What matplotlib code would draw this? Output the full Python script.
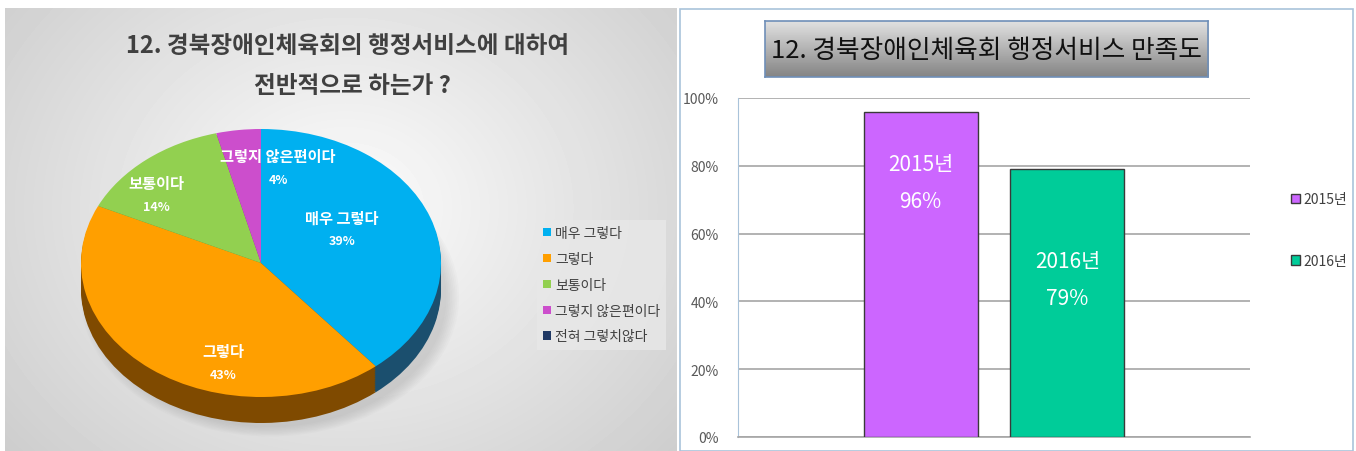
import numpy as np
import matplotlib
matplotlib.use('Agg')
import matplotlib.pyplot as plt
from matplotlib.patches import Rectangle, Ellipse, Patch
from matplotlib.ticker import PercentFormatter

plt.rcParams['font.family'] = ['Noto Sans CJK KR', 'DejaVu Sans']

# left chart data
pie_labels = ['매우 그렇다', '그렇다', '보통이다', '그렇지 않은편이다', '전혀 그렇치않다']
pie_values = [39, 43, 14, 4, 0]
pie_colors = ['#00B0F0', '#FF9F00', '#92D050', '#CC4ECC', '#1F3864']
side_colors = ['#1B4F6E', '#7F4A00', '#5E8A2E', '#862F86', '#101E38']
# label anchors inside the pie (in unit-radius coords)
label_pos = [(0.45, 0.25), (-0.21, -0.75), (-0.58, 0.51), (0.095, 0.71)]

# right chart data
years = ['2015년', '2016년']
satisfaction = [0.96, 0.79]
bar_colors = ['#CC66FF', '#00CC99']
bar_label_y = [0.75, 0.465]

W, H = 1356, 452


def box(x0, y0, x1, y1):
    return [x0 / W, 1 - y1 / H, (x1 - x0) / W, (y1 - y0) / H]


fig = plt.figure(figsize=(W / 100, H / 100), dpi=100)

# ---- left panel background (radial grey gradient)
bg = fig.add_axes(box(5, 9, 677, 452))
yy, xx = np.mgrid[0:443, 0:672]
d = np.sqrt(((xx - 340) / 430.0) ** 2 + ((yy - 200) / 360.0) ** 2)
shade = np.clip(0.99 - 0.18 * d, 0.80, 0.99)
bg.imshow(shade, cmap='gray', vmin=0, vmax=1, aspect='auto', interpolation='bilinear')
bg.axis('off')

# ---- pie with fake 3D side
ax = fig.add_axes(box(5, 9, 677, 452))
ax.set_facecolor('none')
depth = 26 / 134.0

# soft shadow
for k in range(8):
    ax.add_patch(Ellipse((0.05, -depth - 0.06), 2.10 - k * 0.02, 2.08 - k * 0.02,
                         color='#808080', alpha=0.035, lw=0, zorder=0))

for z in np.linspace(-depth, 0, 14)[:-1]:
    ax.pie(pie_values, colors=side_colors, startangle=90, counterclock=False,
           center=(0, z), radius=1, wedgeprops=dict(linewidth=0),
           frame=True)
wedges, _ = ax.pie(pie_values, colors=pie_colors, startangle=90, counterclock=False,
                   center=(0, 0), radius=1, wedgeprops=dict(linewidth=0), frame=True)

for (lx, ly), lab, v in zip(label_pos, pie_labels, pie_values):
    ax.text(lx, ly + 0.09, lab, ha='center', va='center', color='white',
            fontsize=11, fontweight='bold')
    ax.text(lx, ly - 0.085, f'{v}%', ha='center', va='center', color='white',
            fontsize=9, fontweight='bold')

ax.set_aspect('auto')
ax.set_xlim((5 - 261) / 180, (677 - 261) / 180)
ax.set_ylim(-(452 - 264) / 134, (264 - 9) / 134)
ax.axis('off')

fig.text(348 / W, 1 - 46 / H, '12. 경북장애인체육회의 행정서비스에 대하여',
         ha='center', va='center', fontsize=17, fontweight='bold', color='#404040')
fig.text(352 / W, 1 - 86 / H, '전반적으로 하는가 ?',
         ha='center', va='center', fontsize=17, fontweight='bold', color='#404040')

handles = [Patch(facecolor=c, edgecolor='none') for c in pie_colors]
leg = fig.legend(handles, pie_labels, loc='upper left',
                 bbox_to_anchor=(530 / W, 1 - 214 / H), fontsize=10,
                 handlelength=0.55, handleheight=0.55, handletextpad=0.3,
                 labelspacing=0.85, borderpad=0.45, frameon=True, fancybox=False)
leg.get_frame().set_facecolor('#E8E8E8')
leg.get_frame().set_edgecolor('none')
for t in leg.get_texts():
    t.set_color('#404040')

# ---- right panel frame
fig.add_artist(Rectangle((680 / W, 0), (1353 - 680) / W, 1 - 9.5 / H,
                         transform=fig.transFigure, facecolor='white',
                         edgecolor='#A9C3DA', lw=1.2, zorder=-1))

# title box with grey gradient
tb = fig.add_axes(box(765, 22, 1208, 78))
grad = np.linspace(0.88, 0.52, 60).reshape(-1, 1)
tb.imshow(grad, cmap='gray', vmin=0, vmax=1, aspect='auto', extent=(0, 1, 0, 1))
tb.set_xticks([])
tb.set_yticks([])
for s in tb.spines.values():
    s.set_color('#6F8FB8')
    s.set_linewidth(1.2)
tb.text(0.5, 0.48, '12. 경북장애인체육회 행정서비스 만족도', ha='center', va='center',
        fontsize=18.5, color='#111111', transform=tb.transAxes)

# bar axes
bx = fig.add_axes(box(738, 99, 1250, 438))
xpos = (np.arange(len(years)) - 0.5) * 0.45
bars = bx.bar(xpos, satisfaction, width=0.35, color=bar_colors,
              edgecolor='#3a3a3a', linewidth=1, zorder=3, label=years)
for x, y, yr, v in zip(xpos, bar_label_y, years, satisfaction):
    bx.text(x, y + 0.055, yr, ha='center', va='center', color='white', fontsize=15, zorder=4)
    bx.text(x, y - 0.055, f'{v:.0%}', ha='center', va='center', color='white', fontsize=15, zorder=4)

bx.set_xlim(-0.785, 0.785)
bx.set_ylim(0, 1)
bx.set_yticks(np.arange(0, 1.01, 0.2))
bx.yaxis.set_major_formatter(PercentFormatter(1.0, decimals=0))
bx.set_xticks([])
bx.tick_params(axis='y', length=0, labelsize=10, labelcolor='#595959', pad=14)
bx.grid(axis='y', color='#A6A6A6', linewidth=1.2, zorder=0)
bx.set_axisbelow(True)
for s in ['top', 'right']:
    bx.spines[s].set_visible(False)
bx.spines['left'].set_color('#A9C3DA')
bx.spines['bottom'].set_color('#A6A6A6')
bx.spines['bottom'].set_linewidth(1.2)

rleg = fig.legend(bars, years, loc='center left', bbox_to_anchor=(1278 / W, 1 - 231 / H),
                  fontsize=10, frameon=False, handlelength=0.7, handleheight=0.7,
                  handletextpad=0.25, labelspacing=3.4)
for t in rleg.get_texts():
    t.set_color('#404040')

fig.savefig('out.png', dpi=100)
